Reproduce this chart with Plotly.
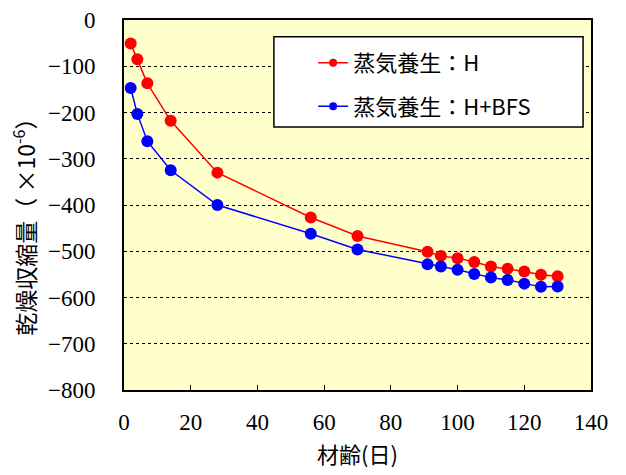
import plotly.graph_objects as go

# age in days
days = [2, 4, 7, 14, 28, 56, 70, 91, 95, 100, 105, 110, 115, 120, 125, 130]

# drying shrinkage (x10^-6)
shrink_h = [-51, -85, -137, -218, -330, -427, -467, -501, -510, -515, -523, -533, -538, -544, -551, -554]
shrink_h_bfs = [-147, -203, -262, -325, -400, -462, -496, -528, -533, -540, -549, -557, -562, -570, -577, -576]

series_names = ["蒸気養生：H", "蒸気養生：H+BFS"]
colors = ["#FF0000", "#0000FF"]

x_ticks = [0, 20, 40, 60, 80, 100, 120, 140]
y_ticks = [0, -100, -200, -300, -400, -500, -600, -700, -800]

font_jp = "Noto Sans CJK JP"
font_num = "Liberation Sans Narrow"

fig = go.Figure()
for i, (name, ys, col) in enumerate(zip(series_names, [shrink_h, shrink_h_bfs], colors)):
    fig.add_trace(go.Scatter(
        x=days, y=ys, name=name, mode="lines+markers", showlegend=False,
        line=dict(color=col, width=1.5),
        marker=dict(color=col, size=12),
    ))
    # legend entry with the smaller marker of the original
    fig.add_trace(go.Scatter(
        x=[None], y=[None], name=name, mode="lines+markers",
        legendgroup=f"g{i}",
        line=dict(color=col, width=1.5),
        marker=dict(color=col, size=8),
    ))

# legend frame
fig.add_shape(type="rect", xref="paper", yref="paper",
              x0=0.321, x1=0.983, y0=0.711, y1=0.955,
              fillcolor="white", line=dict(color="black", width=1.5), layer="above")

# the page body adds an 8px offset, so the figure is 8px smaller than the window
fig.update_layout(
    width=618, height=467,
    margin=dict(l=116, r=35, t=11.5, b=85),
    paper_bgcolor="white",
    plot_bgcolor="#FFFFCC",
    showlegend=True,
    legend=dict(
        x=0.405, y=0.941, xanchor="left", yanchor="top",
        bgcolor="rgba(0,0,0,0)", borderwidth=0,
        font=dict(family=font_jp, size=22, color="black"),
        tracegroupgap=12,
    ),
    annotations=[
        dict(text="乾燥収縮量（ ×10<sup>-6</sup>）", textangle=-90,
             xref="paper", yref="paper", x=-0.214, y=0.455,
             xanchor="center", yanchor="middle", showarrow=False,
             font=dict(family=font_jp, size=23, color="black")),
        dict(text="材齢(日)",
             xref="paper", yref="paper", x=0.5, y=-0.171,
             xanchor="center", yanchor="middle", showarrow=False,
             font=dict(family=font_jp, size=22, color="black")),
    ],
)

fig.update_xaxes(
    range=[0, 140], tickvals=x_ticks, automargin=False,
    showgrid=False, zeroline=False,
    showline=True, linecolor="black", linewidth=2, mirror=True,
    ticks="inside", ticklen=5, tickcolor="black", tickwidth=1,
    tickfont=dict(family=font_num, size=23, color="black"),
    ticklabelstandoff=10,
)
fig.update_yaxes(
    range=[-800, 0], tickvals=y_ticks, automargin=False,
    ticktext=[str(v).replace("-", "\u2212") for v in y_ticks],
    showgrid=True, gridcolor="black", griddash="dot", gridwidth=1,
    zeroline=False,
    showline=True, linecolor="black", linewidth=2, mirror=True,
    ticks="",
    tickfont=dict(family=font_num, size=23, color="black"),
    ticklabelstandoff=22,
)

fig.write_html("out.html")
